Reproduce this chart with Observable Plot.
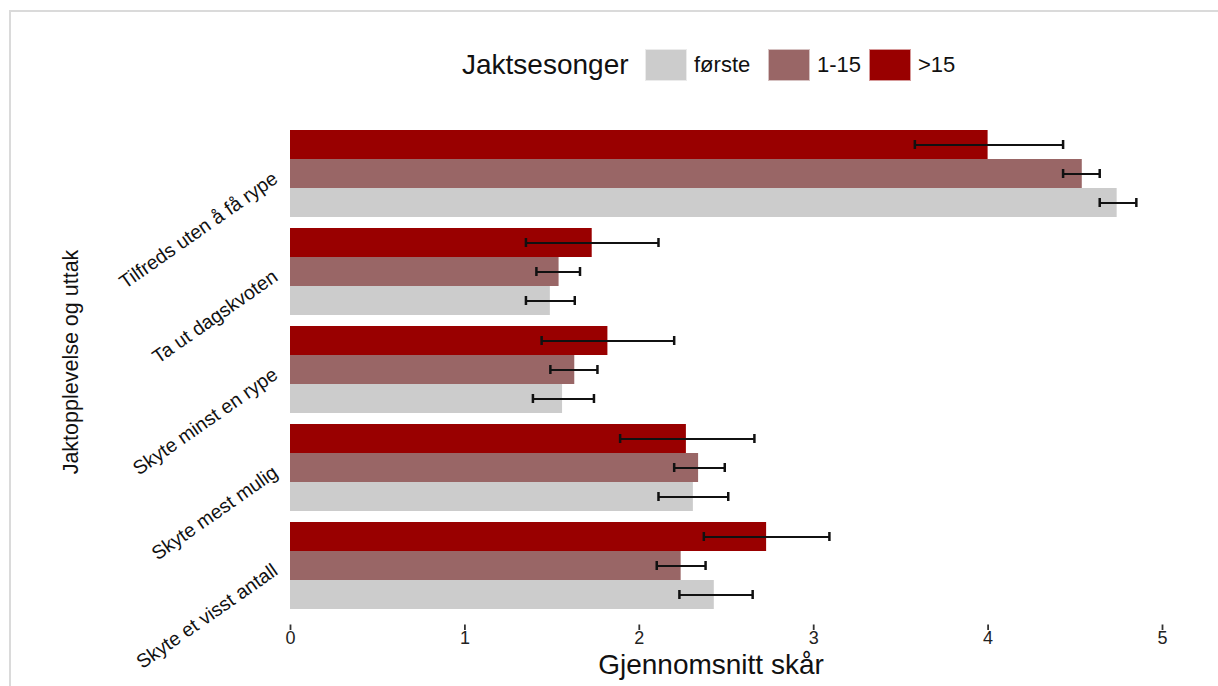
<!DOCTYPE html>
<html>
<head>
<meta charset="utf-8">
<script src="https://cdn.jsdelivr.net/npm/d3@7"></script>
<script src="https://cdn.jsdelivr.net/npm/@observablehq/plot@0.6"></script>
<style>
  html, body { margin: 0; padding: 0; background: #fff; }
  #wrap { position: relative; width: 1218px; height: 686px; overflow: hidden; font-family: "Liberation Sans", Arial, sans-serif; color: #111; }
  #frame { position: absolute; left: 9px; top: 10px; width: 1400px; height: 900px; border-top: 2px solid #dadada; border-left: 2px solid #dadada; }
  #chart { position: absolute; left: 0; top: 0; }
  #legend { position: absolute; left: 0; top: 0; width: 1218px; height: 100px; }
  .lg-title { position: absolute; top: 65px; transform: translateY(-50%); font-size: 28px; white-space: nowrap; }
  .lg-swatch { position: absolute; top: 49px; width: 42px; height: 32px; box-sizing: border-box; border: 1px solid rgba(255,255,255,0.6); }
  .lg-label { position: absolute; top: 65px; transform: translateY(-50%); font-size: 22px; white-space: nowrap; }
  #ytitle { position: absolute; left: 71px; top: 362px; transform: translate(-50%, -50%) rotate(-90deg); font-size: 21.5px; white-space: nowrap; }
  #xtitle { position: absolute; left: 711px; top: 655px; line-height: 20px; transform: translateX(-50%); font-size: 28px; white-space: nowrap; }
</style>
</head>
<body>
<div id="wrap">
  <div id="frame"></div>
  <div id="chart"></div>
  <div id="legend"></div>
  <div id="ytitle"></div>
  <div id="xtitle"></div>
</div>
<script>
// ---- Data ----
const categories = ["Tilfreds uten å få rype", "Ta ut dagskvoten", "Skyte minst en rype", "Skyte mest mulig", "Skyte et visst antall"];
const groups = ["første", "1-15", ">15"];
const colors = ["#cccccc", "#996666", "#990000"];
const legendTitle = "Jaktsesonger";
const xTitle = "Gjennomsnitt skår";
const yTitle = "Jaktopplevelse og uttak";
const xTicks = [0, 1, 2, 3, 4, 5];

const meanFoerste = [4.74, 1.49, 1.56, 2.31, 2.43];
const lowFoerste  = [4.64, 1.35, 1.39, 2.11, 2.23];
const highFoerste = [4.85, 1.63, 1.74, 2.51, 2.65];

const mean1to15 = [4.54, 1.54, 1.63, 2.34, 2.24];
const low1to15  = [4.43, 1.41, 1.49, 2.20, 2.10];
const high1to15 = [4.64, 1.66, 1.76, 2.49, 2.38];

const meanOver15 = [4.00, 1.73, 1.82, 2.27, 2.73];
const lowOver15  = [3.58, 1.35, 1.44, 1.89, 2.37];
const highOver15 = [4.43, 2.11, 2.20, 2.66, 3.09];

// ---- Table built from the arrays ----
const means = [meanFoerste, mean1to15, meanOver15];
const lows = [lowFoerste, low1to15, lowOver15];
const highs = [highFoerste, high1to15, highOver15];
const rows = [];
categories.forEach((c, i) => {
  groups.forEach((g, j) => {
    rows.push({cat: c, group: g, mean: means[j][i], low: lows[j][i], high: highs[j][i]});
  });
});
// tick marks of the x axis, placed in the bottom facet
const tickRows = xTicks.map(v => ({v, cat: categories[categories.length - 1], group: groups[0]}));

const capStyle = {fy: "cat", y: "group", stroke: "#111", strokeWidth: 2.5, insetTop: 10, insetBottom: 10};

const chart = Plot.plot({
  width: 1218,
  height: 686,
  marginTop: 114,
  marginBottom: 62,
  marginLeft: 290,
  marginRight: 56,
  style: {fontFamily: '"Liberation Sans", Arial, sans-serif', color: "#222", background: "transparent", overflow: "visible"},
  x: {domain: [0, 5], range: [290, 1162]},
  fy: {domain: categories, paddingInner: 0.1, paddingOuter: 0.15},
  y: {domain: [...groups].reverse(), paddingInner: 0, paddingOuter: 0, axis: null},
  color: {domain: groups, range: colors},
  marks: [
    Plot.barX(rows, {fy: "cat", y: "group", x: "mean", fill: "group"}),
    Plot.ruleY(rows, {fy: "cat", y: "group", x1: "low", x2: "high", stroke: "#111", strokeWidth: 2}),
    Plot.tickX(rows, {...capStyle, x: "low"}),
    Plot.tickX(rows, {...capStyle, x: "high"}),
    Plot.tickX(tickRows, {x: "v", fy: "cat", y: "group", insetTop: 44.5, insetBottom: -21, stroke: "#333", strokeWidth: 1.8}),
    Plot.axisX({ticks: xTicks, tickSize: 0, tickPadding: 7, dy: 15, fontSize: 18, tickFormat: d3.format("d"),
                color: "#222", label: null}),
    Plot.axisFy({anchor: "left", tickSize: 0, tickPadding: 15, tickRotate: -35, dy: 3, fontSize: 19.5, color: "#111", label: null})
  ]
});
document.getElementById("chart").appendChild(chart);

// ---- Legend ----
const legend = document.getElementById("legend");
const swatchX = [645, 768, 869];
const labelX = [694, 817, 918];
const t = document.createElement("div");
t.className = "lg-title"; t.style.left = "462px"; t.textContent = legendTitle;
legend.appendChild(t);
groups.forEach((g, j) => {
  const s = document.createElement("div");
  s.className = "lg-swatch"; s.style.left = swatchX[j] + "px"; s.style.background = colors[j];
  legend.appendChild(s);
  const l = document.createElement("div");
  l.className = "lg-label"; l.style.left = labelX[j] + "px"; l.textContent = g;
  legend.appendChild(l);
});
document.getElementById("ytitle").textContent = yTitle;
document.getElementById("xtitle").textContent = xTitle;
</script>
</body>
</html>
